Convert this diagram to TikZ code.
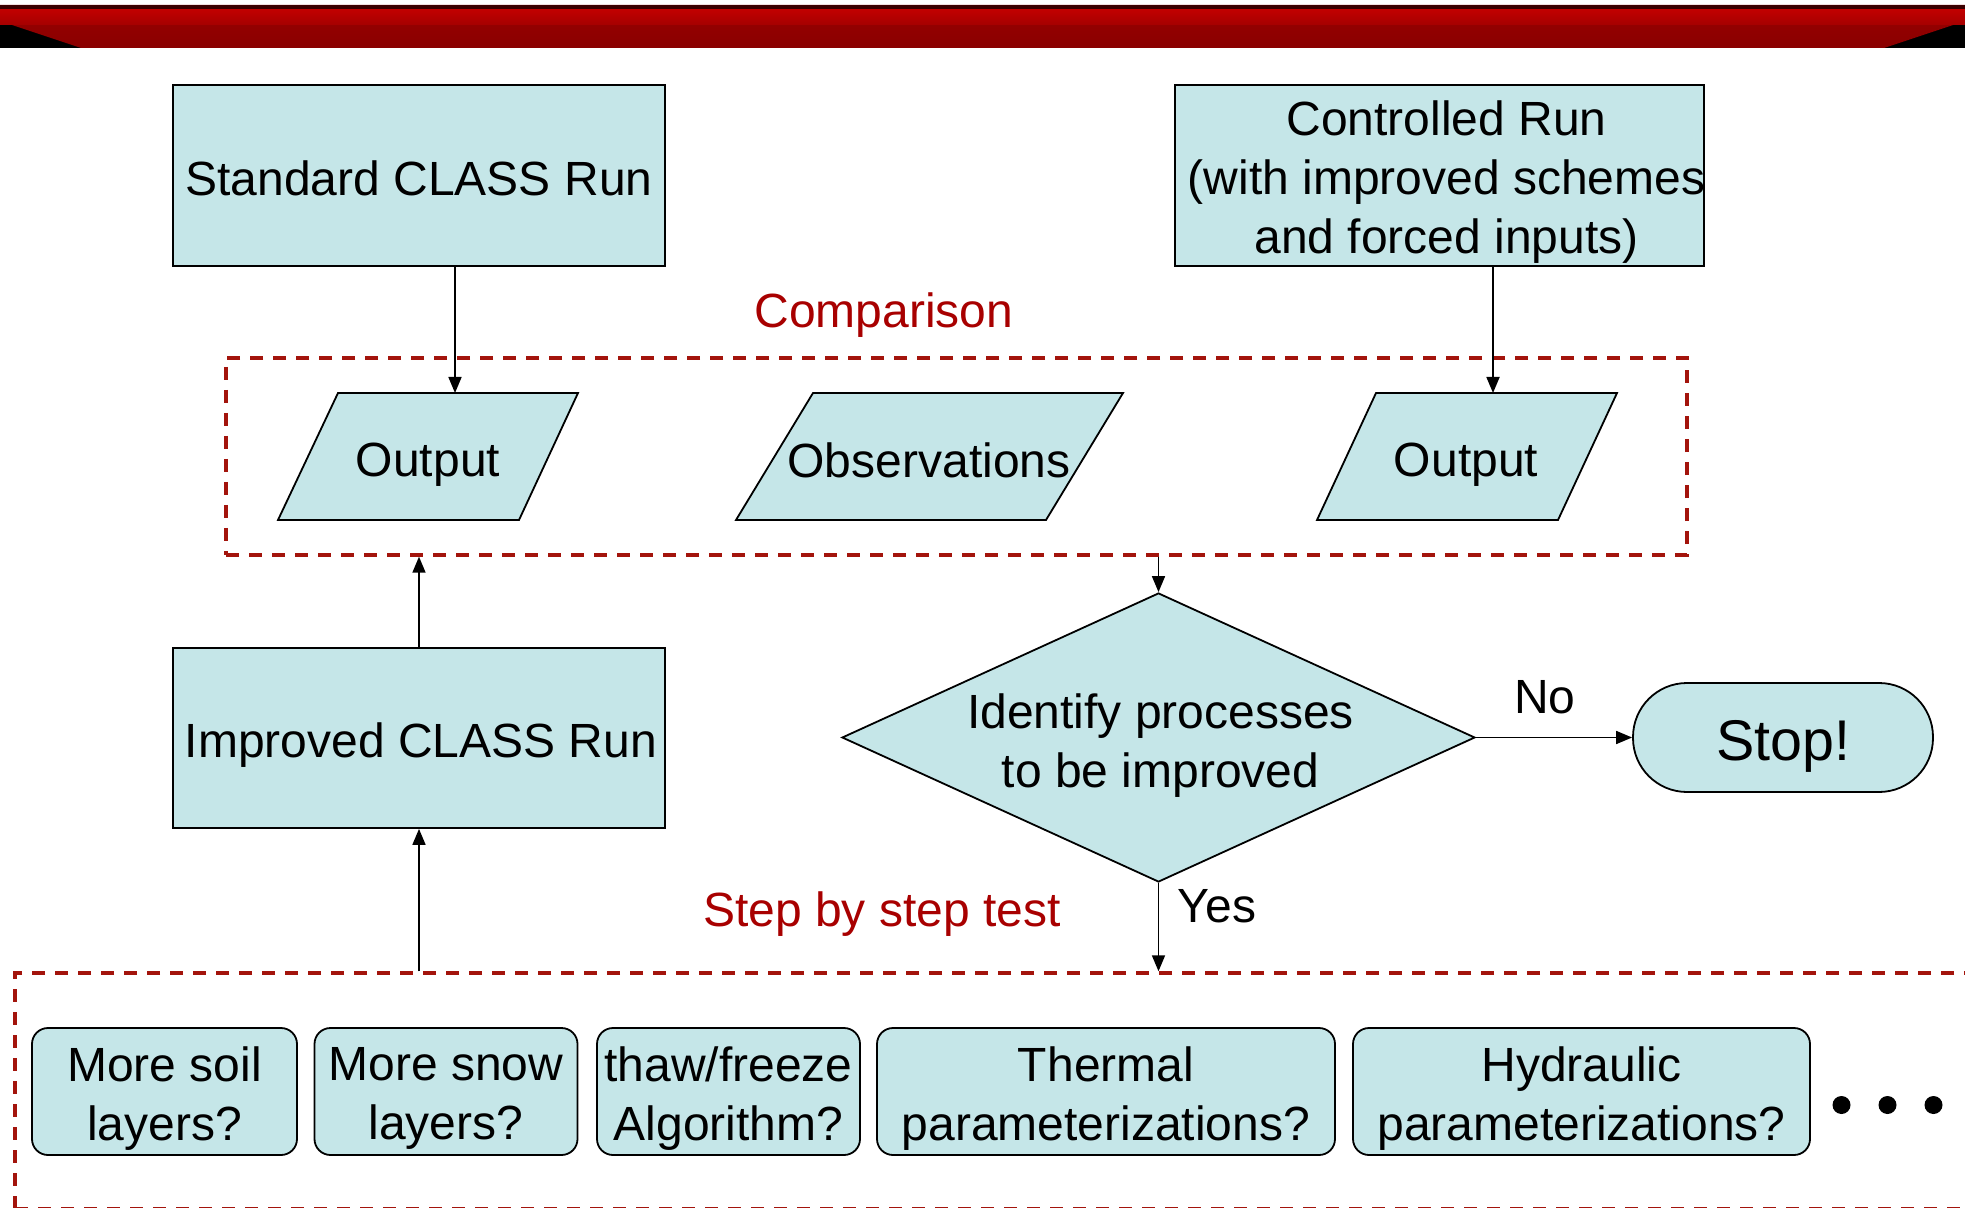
\documentclass[tikz,border=0pt]{standalone}
\usepackage{fontspec}
\setmainfont{Liberation Sans}
\usetikzlibrary{arrows.meta,shapes.geometric}
\definecolor{cfill}{HTML}{C5E6E8}
\definecolor{dred}{HTML}{A3140C}
\definecolor{tred}{HTML}{A80000}
\definecolor{bandhi}{HTML}{C20000}
\definecolor{bandmid}{HTML}{9A0000}
\definecolor{bandlo}{HTML}{8A0000}
\definecolor{bandtop}{HTML}{3A0000}
\newcommand\myfs{\fontsize{24}{29.5}\selectfont}
\newcommand\mystopfs{\fontsize{28.7}{34}\selectfont}
\begin{document}
\begin{tikzpicture}[x=0.5pt,y=-0.5pt,
  box/.style={draw=black,line width=0.9pt,fill=cfill,inner sep=0pt},
  rbox/.style={box,rounded corners=8pt,minimum height=63.5pt},
  dbox/.style={draw=dred,line width=1.7pt,dash pattern=on 6.5pt off 5pt,inner sep=0pt},
  para/.style={draw=black,line width=0.9pt,fill=cfill},
  lbl/.style={font=\myfs,inner sep=0pt},
  txt/.style={font=\myfs,inner sep=0pt,align=center},
  arr/.style={line width=0.85pt,-{Triangle[length=8pt,width=6.5pt]}}]
\useasboundingbox (0,0) rectangle (1965,1208);
\clip (0,0) rectangle (1965,1208);
\fill[white] (0,0) rectangle (1965,1208);
% banner
\fill[black] (0,21) rectangle (1965,48);
\shade[top color=bandmid,bottom color=bandlo] (0,5) -- (1965,5) -- (1965,21) -- (1884,48) -- (81,48) -- (0,21) -- cycle;
\shade[top color=bandhi,bottom color=bandhi!85!black] (0,9) rectangle (1965,25);
\fill[bandtop] (0,5) rectangle (1965,9);
% dashed groups
\node[dbox,minimum width=730.5pt,minimum height=98.5pt] (cmp) at (956.5,456.5) {};
\node[dbox,minimum width=995pt,minimum height=118pt] (test) at (1010,1091) {};
% top boxes
\node[box,minimum width=246pt,minimum height=90.5pt] (std) at (419,175.5) {};
\node[txt] (stdt) at ([yshift=-1.5pt]std.center) {Standard CLASS Run};
\node[box,minimum width=264.5pt,minimum height=90.5pt] (ctrl) at (1439.5,175.5) {};
\node[txt] (ctrlt) at ([xshift=3.5pt,yshift=-3.5pt]ctrl.center) {Controlled Run\\(with improved schemes\\and forced inputs)};
\node[box,minimum width=246pt,minimum height=90pt] (imp) at (419,738) {};
\node[txt] (impt) at ([xshift=1pt,yshift=-3.5pt]imp.center) {Improved CLASS Run};
% parallelograms
\filldraw[para] (338,393) -- (578,393) -- (519,520) -- (278,520) -- cycle;
\filldraw[para] (813,393) -- (1123,393) -- (1046,520) -- (736,520) -- cycle;
\filldraw[para] (1376,393) -- (1617,393) -- (1558,520) -- (1317,520) -- cycle;
\coordinate (o1top) at (455,393);
\coordinate (o3top) at (1493,393);
\node[lbl] (o1) at (428,465) {Output};
\node[lbl] (obs) at (929,460) {Observations};
\node[lbl] (o3) at (1466,465) {Output};
% diamond and stop
\node[diamond,draw=black,line width=0.9pt,fill=cfill,minimum width=316.5pt,minimum height=144.5pt,inner sep=0pt] (dia) at (1158.5,737.5) {};
\node[txt] (diat) at ([xshift=1pt,yshift=-4pt]dia.center) {Identify processes\\to be improved};
\node[box,rounded corners=27pt,minimum width=150pt,minimum height=54.5pt] (stop) at (1783,737.5) {};
\node[font=\mystopfs,inner sep=0pt] (stopt) at ([yshift=-4.5pt]stop.center) {Stop!};
% bottom boxes
\node[rbox,minimum width=132.5pt] (soil) at (164.5,1091.5) {};
\node[txt] (soilt) at ([yshift=-3.5pt]soil.center) {More soil\\layers?};
\node[rbox,minimum width=131.5pt] (snow) at (446,1091.5) {};
\node[txt] (snowt) at ([yshift=-3.5pt]snow.center) {More snow\\layers?};
\node[rbox,minimum width=131.5pt] (thaw) at (728.5,1091.5) {};
\node[txt] (thawt) at ([yshift=-3.5pt]thaw.center) {thaw/freeze\\Algorithm?};
\node[rbox,minimum width=229pt] (therm) at (1106,1091.5) {};
\node[txt] (thermt) at ([yshift=-3.5pt]therm.center) {Thermal\\parameterizations?};
\node[rbox,minimum width=228.5pt] (hydr) at (1581.5,1091.5) {};
\node[txt] (hydrt) at ([yshift=-3.5pt]hydr.center) {Hydraulic\\parameterizations?};
\node[circle,fill=black,minimum size=9pt,inner sep=0pt] (d1) at (1841.5,1105) {};
\node[circle,fill=black,minimum size=9pt,inner sep=0pt] (d2) at (1887.5,1105) {};
\node[circle,fill=black,minimum size=9pt,inner sep=0pt] (d3) at (1933.5,1105) {};
% labels
\node[lbl,text=tred] (cmplab) at (884,315) {Comparison};
\node[lbl,text=tred] (steplab) at (882,914) {Step by step test};
\node[lbl] (nolab) at (1545,697) {No};
\node[lbl] (yeslab) at (1217,906) {Yes};
% connectors
\draw[arr] (std.south -| o1top) -- (o1top);
\draw[arr] (ctrl.south -| o3top) -- (o3top);
\draw[arr] (imp.north) -- (imp.north |- cmp.south);
\draw[arr] (imp.south |- test.north) -- (imp.south);
\draw[arr] (cmp.south -| dia.north) -- (dia.north);
\draw[arr] (dia.south) -- (dia.south |- test.north);
\draw[arr] (dia.east) -- (stop.west);
\end{tikzpicture}
\end{document}
